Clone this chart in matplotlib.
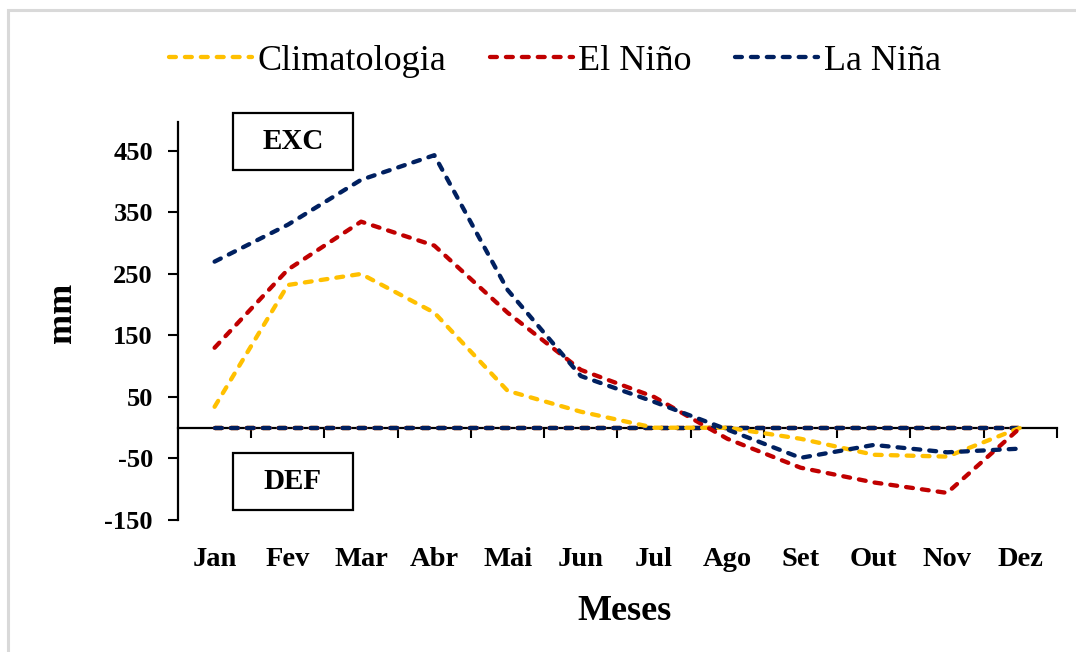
import numpy as np
import matplotlib
matplotlib.use("Agg")
import matplotlib.pyplot as plt
from matplotlib.patches import Rectangle

# monthly water balance (mm)
meses = ["Jan", "Fev", "Mar", "Abr", "Mai", "Jun", "Jul", "Ago", "Set", "Out", "Nov", "Dez"]
climatologia = [34, 232, 250, 187, 60, 26, 0, 0, -18, -44, -47, 0]
el_nino = [130, 257, 335, 296, 187, 94, 50, -18, -65, -89, -106, 0]
la_nina = [270, 330, 403, 443, 224, 84, 42, -3, -49, -28, -40, -34]
zero_line = [0, 0, 0, 0, 0, 0, 0, 0, 0, 0, 0, 0]

plt.rcParams["font.family"] = ["Liberation Serif", "DejaVu Serif"]
plt.rcParams["axes.unicode_minus"] = False

fig = plt.figure(figsize=(10.76, 6.52), dpi=100)
ax = fig.add_axes([0.1654, 0.2025, 0.8169, 0.6104])

# light gray frame round the chart
fig.patches.append(Rectangle((8 / 1076, -0.1), 1.2, 1 - 10 / 652 + 0.1, transform=fig.transFigure,
                             fill=False, edgecolor="#d9d9d9", lw=2.2))

x = np.arange(len(meses))
cols = ["#FFC000", "#C00000", "#002060"]
ls = (0, (1.6, 2.1))
lw = 3.1

for c in cols:
    ax.plot(x, zero_line, color=c, lw=lw, linestyle=ls, dash_capstyle="round", zorder=3)

l1, = ax.plot(x, climatologia, color=cols[0], lw=lw, linestyle=ls, dash_capstyle="round", zorder=4)
l2, = ax.plot(x, el_nino, color=cols[1], lw=lw, linestyle=ls, dash_capstyle="round", zorder=4)
l3, = ax.plot(x, la_nina, color=cols[2], lw=lw, linestyle=ls, dash_capstyle="round", zorder=4)

ax.set_xlim(-0.5, 11.5)
ax.set_ylim(-150, 497)
ax.set_yticks([-150, -50, 50, 150, 250, 350, 450])
ax.tick_params(axis="y", direction="out", length=7, width=1.5, pad=11, labelsize=19)
for t in ax.get_yticklabels():
    t.set_fontweight("bold")

ax.spines["top"].set_visible(False)
ax.spines["right"].set_visible(False)
ax.spines["left"].set_linewidth(1.6)
ax.spines["bottom"].set_position(("data", 0))
ax.spines["bottom"].set_linewidth(1.6)
ax.spines["bottom"].set_zorder(2)
ax.set_xticks(np.arange(0.5, 12, 1))
ax.set_xticklabels([])
ax.tick_params(axis="x", direction="out", length=7, width=1.5)

for i, m in enumerate(meses):
    ax.text(i, -0.1, m, transform=ax.get_xaxis_transform(), ha="center", va="center",
            fontsize=20.5, fontweight="bold")

fig.text(624 / 1076, 1 - 611 / 652, "Meses", ha="center", va="center", fontsize=26, fontweight="bold")
fig.text(62 / 1076, 1 - 313 / 652, "mm", ha="center", va="center", rotation=90, fontsize=26, fontweight="bold")

# EXC / DEF boxes
for y0, y1, lab in [(0.879, 1.023, "EXC"), (0.025, 0.168, "DEF")]:
    ax.add_patch(Rectangle((0.0626, y0), 0.1365, y1 - y0, transform=ax.transAxes, fill=True,
                           facecolor="white", edgecolor="black", lw=1.6, clip_on=False, zorder=5))
    ax.text(0.0626 + 0.1365 / 2, (y0 + y1) / 2, lab, transform=ax.transAxes, ha="center", va="center",
            fontsize=21, fontweight="bold", zorder=6)

fig.legend([l1, l2, l3], ["Climatologia", "El Niño", "La Niña"], loc="center",
           bbox_to_anchor=(555 / 1076, 1 - 61 / 652), ncol=3, frameon=False, fontsize=26,
           handlelength=2.3, handletextpad=0.15, columnspacing=1.2)

fig.savefig("out.png", dpi=100)
